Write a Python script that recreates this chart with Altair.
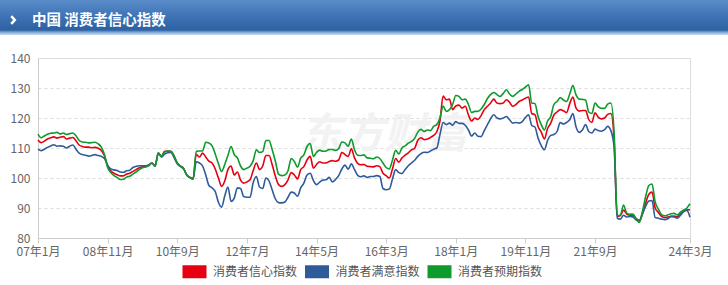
import altair as alt
import pandas as pd

series_names = ["消费者信心指数", "消费者满意指数", "消费者预期指数"]
series_colors = ["#e60012", "#2f5b9a", "#0e9a2c"]
tick_months = [0, 22, 44, 66, 88, 110, 132, 154, 176, 206]
tick_labels = ["07年1月", "08年11月", "10年9月", "12年7月", "14年5月",
               "16年3月", "18年1月", "19年11月", "21年9月", "24年3月"]
y_ticks = [80, 90, 100, 110, 120, 130, 140]
header_title = "中国 消费者信心指数"
watermark = "东方财富"

# monthly values, 2007-01 .. 2024-03
confidence = [
    112.7, 111.8, 112.3, 113.0, 113.4, 113.7, 113.3, 113.6, 113.8, 113.0, 113.3, 113.5,
    112.4, 111.0, 110.5, 110.3, 110.3, 110.1, 110.2, 109.9, 109.2, 107.4, 104.0, 102.3,
    101.6, 101.1, 100.7, 100.7, 101.3, 101.6, 102.2, 102.8, 103.4, 103.7, 103.9, 104.3,
    105.0, 104.0, 108.3, 107.2, 108.9, 108.9, 108.9, 107.3, 105.0, 104.0, 103.2, 101.0,
    100.2, 99.7, 107.9, 107.0, 108.3, 107.0, 105.6, 105.0, 103.0, 100.0, 97.2, 99.0,
    102.8, 104.0, 101.0, 102.0, 99.3, 98.3, 98.7, 99.4, 102.5, 105.0, 102.8, 104.0,
    107.5, 107.5, 104.4, 100.6, 97.8, 97.2, 97.8, 99.4, 101.8, 101.0, 99.7, 102.8,
    103.8, 106.0, 107.2, 103.3, 104.5, 105.4, 105.0, 105.0, 105.5, 105.8, 105.6, 106.0,
    108.5, 107.8, 107.2, 109.7, 106.7, 104.9, 104.4, 104.5, 103.9, 103.8, 103.7, 104.1,
    103.8, 101.6, 100.8, 100.0, 103.0, 106.5, 105.3, 106.7, 107.6, 108.4, 109.4, 109.9,
    112.6, 113.4, 112.8, 113.0, 113.5, 114.2, 115.4, 119.0, 127.3, 126.1, 126.3, 122.8,
    124.0, 124.3, 123.3, 123.9, 121.0, 119.0, 120.0, 119.5, 120.8, 122.8, 123.9, 125.0,
    126.3, 125.0, 124.8, 125.0, 126.1, 125.2, 123.9, 124.5, 125.5, 126.0, 126.6, 127.0,
    121.5, 121.1, 117.2, 115.3, 113.0, 116.5, 118.3, 121.0, 122.0, 122.8, 122.4, 121.8,
    124.8, 127.0, 123.3, 122.3, 122.5, 122.5, 119.5, 118.5, 121.7, 120.3, 119.7, 120.0,
    121.2, 121.5, 113.2, 87.2, 87.5, 89.3, 88.0, 87.6, 87.4, 86.5, 85.9, 88.2,
    91.7, 94.6, 95.3, 90.0, 88.5, 87.2, 86.8, 87.0, 87.2, 87.3, 87.1, 88.0,
    88.9, 89.4, 89.4,
]
satisfaction = [
    109.6, 109.1, 109.6, 110.2, 110.7, 111.1, 110.6, 110.7, 110.6, 110.0, 110.6, 111.0,
    109.6, 108.3, 107.8, 107.6, 107.3, 107.5, 107.8, 107.5, 107.2, 106.5, 104.3, 103.0,
    102.7, 102.5, 102.0, 101.9, 102.4, 102.6, 103.5, 103.9, 104.1, 104.1, 104.1, 104.3,
    105.0, 104.0, 108.3, 107.0, 108.0, 108.4, 108.5, 106.8, 104.7, 103.8, 103.0, 101.0,
    100.2, 99.7, 105.4, 105.0, 104.0, 101.0, 97.5, 96.7, 95.5, 91.9, 90.3, 94.0,
    97.0, 92.2, 93.3, 96.7, 96.5, 93.8, 93.6, 93.6, 98.5, 100.5, 97.0, 96.5,
    100.0, 99.0, 96.0, 93.0, 91.8, 91.7, 92.0, 93.6, 95.3, 95.0, 93.9, 96.7,
    98.3, 101.0, 101.6, 99.2, 97.8, 98.6, 99.3, 99.4, 100.2, 98.7, 99.5, 100.8,
    103.0, 104.3, 102.9, 104.7, 102.8, 100.9, 100.4, 100.7, 100.2, 100.5, 100.5, 100.8,
    100.5, 96.5, 96.1, 96.3, 99.7, 102.8, 101.8, 101.5, 102.8, 104.1, 105.0, 105.9,
    107.2, 108.1, 108.6, 108.5, 109.0, 109.6, 110.0, 114.5, 118.5, 117.8, 118.3, 117.6,
    118.8, 118.2, 118.2, 117.6, 116.0, 114.0, 115.0, 113.9, 113.8, 115.8, 117.8, 119.7,
    121.1, 120.0, 119.7, 120.0, 120.5, 119.4, 118.3, 118.5, 118.3, 118.8, 120.2, 121.1,
    117.5, 117.0, 113.3, 110.8, 109.4, 112.5, 114.2, 114.5, 115.5, 118.5, 118.0, 118.5,
    119.4, 121.5, 117.0, 115.2, 116.0, 117.8, 115.5, 115.0, 116.3, 115.8, 115.6, 116.1,
    117.2, 115.8, 110.5, 86.6, 86.3, 87.6, 87.0, 87.2, 87.0, 86.0, 85.5, 88.0,
    90.6, 92.3, 92.5, 86.8, 86.6, 86.3, 86.1, 86.4, 87.2, 87.0, 86.6, 87.6,
    88.8, 89.2, 86.9,
]
expectation = [
    114.6, 113.4, 114.0, 114.6, 114.9, 115.0, 115.2, 114.7, 115.0, 114.5, 114.8, 115.0,
    114.1, 112.5, 112.0, 111.9, 111.7, 111.8, 111.9, 111.4, 110.3, 107.8, 103.5, 101.8,
    100.8, 100.2, 99.5, 99.6, 100.3, 100.6, 101.3, 102.0, 102.8, 103.4, 103.7, 104.1,
    105.0, 104.0, 108.3, 107.2, 108.6, 109.0, 108.9, 107.3, 105.0, 104.0, 103.2, 101.0,
    100.2, 99.7, 108.9, 109.0, 109.0, 111.9, 111.7, 110.7, 108.0, 104.8, 102.2, 104.5,
    107.5, 110.5, 107.8, 106.7, 104.0, 102.8, 103.3, 103.9, 105.8, 109.4, 108.5, 108.8,
    112.5, 112.5, 109.4, 105.6, 101.3, 100.8, 101.0, 102.4, 106.5, 105.5, 103.6, 106.6,
    107.7, 110.5, 111.5, 107.2, 108.5, 109.3, 108.9, 109.0, 109.5, 109.5, 109.2, 109.8,
    112.0, 111.7, 110.6, 113.0, 109.4, 107.6, 107.5, 107.7, 106.7, 106.6, 106.4, 107.0,
    106.5, 105.0, 103.5, 103.0, 106.0, 109.2, 108.0, 110.0, 110.7, 111.6, 112.2, 113.2,
    115.3, 116.2, 115.5, 116.0, 115.8, 117.2, 117.8, 120.0, 124.0, 122.2, 122.8, 124.5,
    127.5, 127.2, 126.1, 126.3, 124.5, 121.8, 122.2, 122.2, 123.0, 124.5, 126.5, 127.8,
    128.5, 127.8, 127.2, 128.2, 129.4, 128.0, 127.2, 128.0, 128.9, 129.5, 130.3, 131.1,
    125.0, 124.8, 120.5, 117.8, 116.0, 119.0, 120.5, 124.5, 125.5, 126.8, 126.0, 125.5,
    128.0, 130.8, 127.7, 126.3, 126.2, 126.0, 122.0, 121.5, 125.0, 123.8, 123.2, 123.2,
    124.6, 125.0, 115.5, 87.5, 87.6, 91.0, 88.3, 87.9, 88.0, 86.3, 85.2, 89.0,
    93.9, 97.5, 98.0, 92.0, 89.6, 87.8, 87.4, 87.7, 88.1, 88.2, 87.7, 88.6,
    89.3, 90.0, 91.4,
]

months = list(range(len(confidence)))
rows = []
for name, vals in zip(series_names, [confidence, satisfaction, expectation]):
    for m, v in zip(months, vals):
        rows.append({"m": m, "value": v, "series": name})
df = pd.DataFrame(rows)

label_expr = "".join(
    f"datum.value == {t} ? '{lab}' : " for t, lab in zip(tick_months, tick_labels)
) + "''"

FONT = "Noto Sans CJK SC"
W, H = 652, 180

x_enc = alt.X(
    "m:Q",
    scale=alt.Scale(domain=[0, 206], nice=False, zero=False),
    axis=alt.Axis(
        values=tick_months, labelExpr=label_expr, grid=False, title=None,
        domainColor="#cccccc", tickColor="#cccccc", tickSize=5,
        labelColor="#666666", labelFontSize=12, labelPadding=3,
        labelFlush=False, labelOverlap=False, labelFont=FONT,
    ),
)
y_enc = alt.Y(
    "value:Q",
    scale=alt.Scale(domain=[80, 140], nice=False, zero=False),
    axis=alt.Axis(
        values=y_ticks, grid=True, gridDash=[3, 3], gridColor="#dcdcdc",
        domainColor="#cccccc", ticks=False, labelPadding=8, title=None,
        labelColor="#666666", labelFontSize=12, labelFont=FONT,
    ),
)
color_enc = alt.Color(
    "series:N",
    scale=alt.Scale(domain=series_names, range=series_colors),
    legend=alt.Legend(
        orient="none", legendX=138, legendY=195, direction="horizontal",
        title=None, symbolType="stroke", symbolSize=576, symbolStrokeWidth=13,
        labelFontSize=12, labelColor="#555555", labelFont=FONT,
        labelOffset=0, columnPadding=-19.5, padding=0,
    ),
)

one = alt.Data(values=[{"k": 1}])

header_bg = alt.Chart(one).mark_rect(
    color=alt.LinearGradient(
        gradient="linear", x1=0, y1=0, x2=0, y2=1,
        stops=[
            alt.GradientStop(color="#5a8cc9", offset=0),
            alt.GradientStop(color="#3c71b3", offset=0.5),
            alt.GradientStop(color="#2d61a2", offset=0.86),
            alt.GradientStop(color="#7ea7d6", offset=0.92),
            alt.GradientStop(color="#c9dcf0", offset=1),
        ],
    )
).encode(x=alt.value(-38), x2=alt.value(690), y=alt.value(-58), y2=alt.value(-23))

chevron = alt.Chart(one).mark_point(
    shape="M-0.45,-1L0.45,0L-0.45,1", filled=False, stroke="white",
    strokeWidth=2.6, size=60, opacity=1,
).encode(x=alt.value(-25), y=alt.value(-38))

header_text = alt.Chart(one).mark_text(
    align="left", baseline="middle", color="white", fontSize=14.5,
    fontWeight="bold", font=FONT,
).encode(x=alt.value(-6), y=alt.value(-37), text=alt.value(header_title))

wm = alt.Chart(one).mark_text(
    align="center", baseline="middle", color="#f2f2f2", fontSize=42,
    fontWeight="bold", fontStyle="italic", font=FONT,
).encode(x=alt.value(346), y=alt.value(77), text=alt.value(watermark))

lines = [
    alt.Chart(df).transform_filter(alt.datum.series == name)
    .mark_line(interpolate="monotone", strokeWidth=1.6)
    .encode(x=x_enc, y=y_enc, color=color_enc)
    for name in series_names
]

chart = alt.layer(header_bg, chevron, header_text, wm, *lines).properties(
    width=W, height=H, autosize="none",
    padding={"left": 38, "top": 58, "right": 38, "bottom": 47},
).configure_view(stroke=None).configure(font=FONT, background="white")

chart.save("out.html", embed_options={"renderer": "svg", "actions": False})
